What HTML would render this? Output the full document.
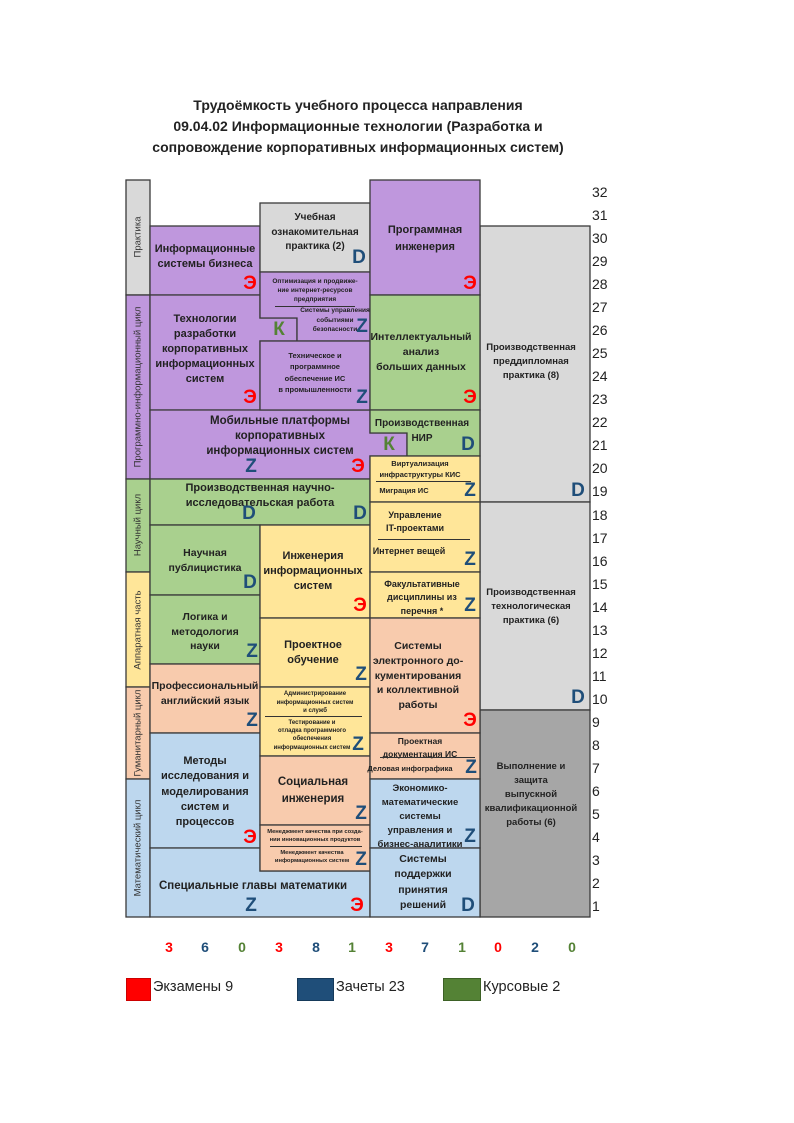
<!DOCTYPE html>
<html><head><meta charset="utf-8">
<style>
body{margin:0;width:794px;height:1123px;background:#fff;position:relative;overflow:hidden;font-family:"Liberation Sans","DejaVu Sans",sans-serif;color:#222}
.t{position:absolute;text-align:center;font-weight:bold;transform:translateX(-50%);white-space:nowrap;color:#222}
.L{position:absolute;width:24px;text-align:center;font-weight:bold;font-size:19px;line-height:24px;transform:translate(-50%,-50%)}
.r{color:#ff0000}.b{color:#1f4e79}.g{color:#548235}
.n{position:absolute;left:592px;font-size:14px;line-height:16px;transform:translateY(-50%)}
.c{position:absolute;top:939px;font-size:14px;font-weight:bold;transform:translateX(-50%)}
.v{position:absolute;left:138px;transform:translate(-50%,-50%) rotate(-90deg);font-size:9.5px;white-space:nowrap;color:#333}
.line{position:absolute;height:0;border-top:1px solid #333}
</style></head><body>
<div class="t" style="left:358px;top:95px;font-size:14px;line-height:21px">Трудоёмкость учебного процесса направления<br>09.04.02 Информационные технологии (Разработка и<br>сопровождение корпоративных информационных систем)</div>

<svg width="794" height="1123" style="position:absolute;left:0;top:0" stroke="#3a3a3a" stroke-width="1.3">
<rect x="126" y="180" width="24" height="115" fill="#d9d9d9"/>
<rect x="126" y="295" width="24" height="184" fill="#bf97dd"/>
<rect x="126" y="479" width="24" height="93" fill="#a9d08e"/>
<rect x="126" y="572" width="24" height="115" fill="#ffe699"/>
<rect x="126" y="687" width="24" height="92" fill="#f8cbad"/>
<rect x="126" y="779" width="24" height="138" fill="#bdd7ee"/>
<rect x="480" y="226" width="110" height="276" fill="#d9d9d9"/>
<rect x="480" y="502" width="110" height="208" fill="#d9d9d9"/>
<rect x="480" y="710" width="110" height="207" fill="#a6a6a6"/>
<rect x="150" y="226" width="110" height="69" fill="#bf97dd"/>
<polygon points="150,295 260,295 260,318 297,318 297,341 260,341 260,410 150,410" fill="#bf97dd"/>
<polygon points="150,410 370,410 370,433 407,433 407,456 370,456 370,479 150,479" fill="#bf97dd"/>
<rect x="150" y="479" width="220" height="46" fill="#a9d08e"/>
<rect x="150" y="525" width="110" height="70" fill="#a9d08e"/>
<rect x="150" y="595" width="110" height="69" fill="#a9d08e"/>
<rect x="150" y="664" width="110" height="69" fill="#f8cbad"/>
<rect x="150" y="733" width="110" height="115" fill="#bdd7ee"/>
<polygon points="150,848 260,848 260,871 370,871 370,917 150,917" fill="#bdd7ee"/>
<rect x="260" y="203" width="110" height="69" fill="#d9d9d9"/>
<polygon points="260,272 370,272 370,341 297,341 297,318 260,318" fill="#bf97dd"/>
<rect x="260" y="341" width="110" height="69" fill="#bf97dd"/>
<rect x="260" y="525" width="110" height="93" fill="#ffe699"/>
<rect x="260" y="618" width="110" height="69" fill="#ffe699"/>
<rect x="260" y="687" width="110" height="69" fill="#ffe699"/>
<rect x="260" y="756" width="110" height="69" fill="#f8cbad"/>
<rect x="260" y="825" width="110" height="46" fill="#f8cbad"/>
<rect x="370" y="180" width="110" height="115" fill="#bf97dd"/>
<rect x="370" y="295" width="110" height="115" fill="#a9d08e"/>
<polygon points="370,410 480,410 480,456 407,456 407,433 370,433" fill="#a9d08e"/>
<rect x="370" y="456" width="110" height="46" fill="#ffe699"/>
<rect x="370" y="502" width="110" height="70" fill="#ffe699"/>
<rect x="370" y="572" width="110" height="46" fill="#ffe699"/>
<rect x="370" y="618" width="110" height="115" fill="#f8cbad"/>
<rect x="370" y="733" width="110" height="46" fill="#f8cbad"/>
<rect x="370" y="779" width="110" height="69" fill="#bdd7ee"/>
<rect x="370" y="848" width="110" height="69" fill="#bdd7ee"/>
</svg>

<div class="v" style="top:237px">Практика</div>
<div class="v" style="top:387px">Программно-информационный цикл</div>
<div class="v" style="top:525px">Научный цикл</div>
<div class="v" style="top:630px">Аппаратная часть</div>
<div class="v" style="top:733px">Гуманитарный цикл</div>
<div class="v" style="top:848px">Математический цикл</div>

<div class="n" style="top:906px">1</div><div class="n" style="top:883px">2</div><div class="n" style="top:860px">3</div><div class="n" style="top:837px">4</div><div class="n" style="top:814px">5</div><div class="n" style="top:791px">6</div><div class="n" style="top:768px">7</div><div class="n" style="top:745px">8</div><div class="n" style="top:722px">9</div><div class="n" style="top:699px">10</div><div class="n" style="top:676px">11</div><div class="n" style="top:653px">12</div><div class="n" style="top:630px">13</div><div class="n" style="top:607px">14</div><div class="n" style="top:584px">15</div><div class="n" style="top:561px">16</div><div class="n" style="top:538px">17</div><div class="n" style="top:515px">18</div><div class="n" style="top:491px">19</div><div class="n" style="top:468px">20</div><div class="n" style="top:445px">21</div><div class="n" style="top:422px">22</div><div class="n" style="top:399px">23</div><div class="n" style="top:376px">24</div><div class="n" style="top:353px">25</div><div class="n" style="top:330px">26</div><div class="n" style="top:307px">27</div><div class="n" style="top:284px">28</div><div class="n" style="top:261px">29</div><div class="n" style="top:238px">30</div><div class="n" style="top:215px">31</div><div class="n" style="top:192px">32</div>

<div class="t" style="left:205px;top:242px;font-size:11px;line-height:15px">Информационные<br>системы бизнеса</div>
<div class="t" style="left:315px;top:211px;font-size:10px;line-height:14.5px">Учебная<br>ознакомительная<br>практика (2)</div>
<div class="t" style="left:315px;top:277px;font-size:6.5px;line-height:9px">Оптимизация и продвиже-<br>ние интернет-ресурсов<br>предприятия</div>
<div class="line" style="left:275px;top:306px;width:80px"></div>
<div class="t" style="left:335px;top:306px;font-size:6.5px;line-height:9.5px">Системы управления<br>событиями<br>безопасности</div>
<div class="t" style="left:205px;top:312px;font-size:11px;line-height:15px">Технологии<br>разработки<br>корпоративных<br>информационных<br>систем</div>
<div class="t" style="left:315px;top:350px;font-size:7.5px;line-height:11.3px">Техническое и<br>программное<br>обеспечение ИС<br>в промышленности</div>
<div class="t" style="left:280px;top:414px;font-size:11.5px;line-height:15px">Мобильные платформы<br>корпоративных<br>информационных систем</div>
<div class="t" style="left:425px;top:222px;font-size:11px;line-height:17px">Программная<br>инженерия</div>
<div class="t" style="left:421px;top:330px;font-size:10.5px;line-height:15px">Интеллектуальный<br>анализ<br>больших данных</div>
<div class="t" style="left:422px;top:416px;font-size:10px;line-height:15px">Производственная<br>НИР</div>
<div class="t" style="left:420px;top:458px;font-size:7.5px;line-height:11px">Виртуализация<br>инфраструктуры КИС</div>
<div class="line" style="left:376px;top:481px;width:95px"></div>
<div class="t" style="left:404px;top:485px;font-size:7.5px;line-height:11px">Миграция ИС</div>
<div class="t" style="left:531px;top:341px;font-size:9.5px;line-height:14px">Производственная<br>преддипломная<br>практика (8)</div>
<div class="t" style="left:260px;top:481px;font-size:11px;line-height:15px">Производственная научно-<br>исследовательская работа</div>
<div class="t" style="left:205px;top:546px;font-size:10.5px;line-height:15px">Научная<br>публицистика</div>
<div class="t" style="left:205px;top:610px;font-size:10.5px;line-height:14.5px">Логика и<br>методология<br>науки</div>
<div class="t" style="left:205px;top:679px;font-size:10.5px;line-height:14.5px">Профессиональный<br>английский язык</div>
<div class="t" style="left:313px;top:549px;font-size:11px;line-height:15px">Инженерия<br>информационных<br>систем</div>
<div class="t" style="left:313px;top:638px;font-size:11px;line-height:15px">Проектное<br>обучение</div>
<div class="t" style="left:315px;top:690px;font-size:6px;line-height:8.5px">Администрирование<br>информационных систем<br>и служб</div>
<div class="line" style="left:265px;top:716px;width:97px"></div>
<div class="t" style="left:312px;top:719px;font-size:6px;line-height:8.2px">Тестирование и<br>отладка программного<br>обеспечения<br>информационных систем</div>
<div class="t" style="left:415px;top:509px;font-size:9px;line-height:13px">Управление<br>IT-проектами</div>
<div class="line" style="left:378px;top:539px;width:92px"></div>
<div class="t" style="left:409px;top:545px;font-size:9px;line-height:13px">Интернет вещей</div>
<div class="t" style="left:422px;top:578px;font-size:9px;line-height:13.3px">Факультативные<br>дисциплины из<br>перечня *</div>
<div class="t" style="left:418px;top:639px;font-size:10.5px;line-height:14.8px">Системы<br>электронного до-<br>кументирования<br>и коллективной<br>работы</div>
<div class="t" style="left:531px;top:586px;font-size:9.5px;line-height:14px">Производственная<br>технологическая<br>практика (6)</div>
<div class="t" style="left:420px;top:735px;font-size:8.5px;line-height:13px">Проектная<br>документация ИС</div>
<div class="line" style="left:380px;top:757px;width:95px"></div>
<div class="t" style="left:410px;top:763px;font-size:7.5px;line-height:11px">Деловая инфографика</div>
<div class="t" style="left:531px;top:760px;font-size:9.5px;line-height:14px">Выполнение и<br>защита<br>выпускной<br>квалификационной<br>работы (6)</div>
<div class="t" style="left:205px;top:754px;font-size:11px;line-height:15.3px">Методы<br>исследования и<br>моделирования<br>систем и<br>процессов</div>
<div class="t" style="left:313px;top:774px;font-size:11.5px;line-height:17px">Социальная<br>инженерия</div>
<div class="t" style="left:315px;top:828px;font-size:5.8px;line-height:8px">Менеджмент качества при созда-<br>нии инновационных продуктов</div>
<div class="line" style="left:270px;top:846px;width:92px"></div>
<div class="t" style="left:312px;top:849px;font-size:5.8px;line-height:8px">Менеджмент качества<br>информационных систем</div>
<div class="t" style="left:420px;top:782px;font-size:9.5px;line-height:14px">Экономико-<br>математические<br>системы<br>управления и<br>бизнес-аналитики</div>
<div class="t" style="left:253px;top:878px;font-size:11.5px;line-height:16px">Специальные главы математики</div>
<div class="t" style="left:423px;top:852px;font-size:10.5px;line-height:15.3px">Системы<br>поддержки<br>принятия<br>решений</div>

<div class="L r" style="left:250px;top:284px">Э</div>
<div class="L b" style="left:359px;top:258px">D</div>
<div class="L b" style="left:362px;top:327px">Z</div>
<div class="L g" style="left:279px;top:330px">К</div>
<div class="L r" style="left:250px;top:398px">Э</div>
<div class="L b" style="left:362px;top:398px">Z</div>
<div class="L b" style="left:251px;top:467px">Z</div>
<div class="L r" style="left:358px;top:467px">Э</div>
<div class="L r" style="left:470px;top:284px">Э</div>
<div class="L r" style="left:470px;top:398px">Э</div>
<div class="L g" style="left:389px;top:445px">К</div>
<div class="L b" style="left:468px;top:445px">D</div>
<div class="L b" style="left:470px;top:491px">Z</div>
<div class="L b" style="left:578px;top:491px">D</div>
<div class="L b" style="left:249px;top:514px">D</div>
<div class="L b" style="left:360px;top:514px">D</div>
<div class="L b" style="left:250px;top:583px">D</div>
<div class="L b" style="left:252px;top:652px">Z</div>
<div class="L b" style="left:252px;top:721px">Z</div>
<div class="L r" style="left:360px;top:606px">Э</div>
<div class="L b" style="left:361px;top:675px">Z</div>
<div class="L b" style="left:358px;top:745px">Z</div>
<div class="L b" style="left:470px;top:560px">Z</div>
<div class="L b" style="left:470px;top:606px">Z</div>
<div class="L r" style="left:470px;top:721px">Э</div>
<div class="L b" style="left:578px;top:698px">D</div>
<div class="L b" style="left:471px;top:768px">Z</div>
<div class="L r" style="left:250px;top:838px">Э</div>
<div class="L b" style="left:361px;top:814px">Z</div>
<div class="L b" style="left:361px;top:860px">Z</div>
<div class="L b" style="left:470px;top:837px">Z</div>
<div class="L b" style="left:251px;top:906px">Z</div>
<div class="L r" style="left:357px;top:906px">Э</div>
<div class="L b" style="left:468px;top:906px">D</div>

<div class="c r" style="left:169px">3</div><div class="c b" style="left:205px">6</div><div class="c g" style="left:242px">0</div>
<div class="c r" style="left:279px">3</div><div class="c b" style="left:316px">8</div><div class="c g" style="left:352px">1</div>
<div class="c r" style="left:389px">3</div><div class="c b" style="left:425px">7</div><div class="c g" style="left:462px">1</div>
<div class="c r" style="left:498px">0</div><div class="c b" style="left:535px">2</div><div class="c g" style="left:572px">0</div>

<div style="position:absolute;left:126px;top:978px;width:23px;height:21px;background:#ff0000;border:1px solid #c00"></div>
<div style="position:absolute;left:153px;top:979px;font-size:14.5px">Экзамены 9</div>
<div style="position:absolute;left:297px;top:978px;width:35px;height:21px;background:#1f4e79;border:1px solid #163a5a"></div>
<div style="position:absolute;left:336px;top:979px;font-size:14.5px">Зачеты 23</div>
<div style="position:absolute;left:443px;top:978px;width:36px;height:21px;background:#548235;border:1px solid #3d6126"></div>
<div style="position:absolute;left:483px;top:979px;font-size:14.5px">Курсовые 2</div>
</body></html>
